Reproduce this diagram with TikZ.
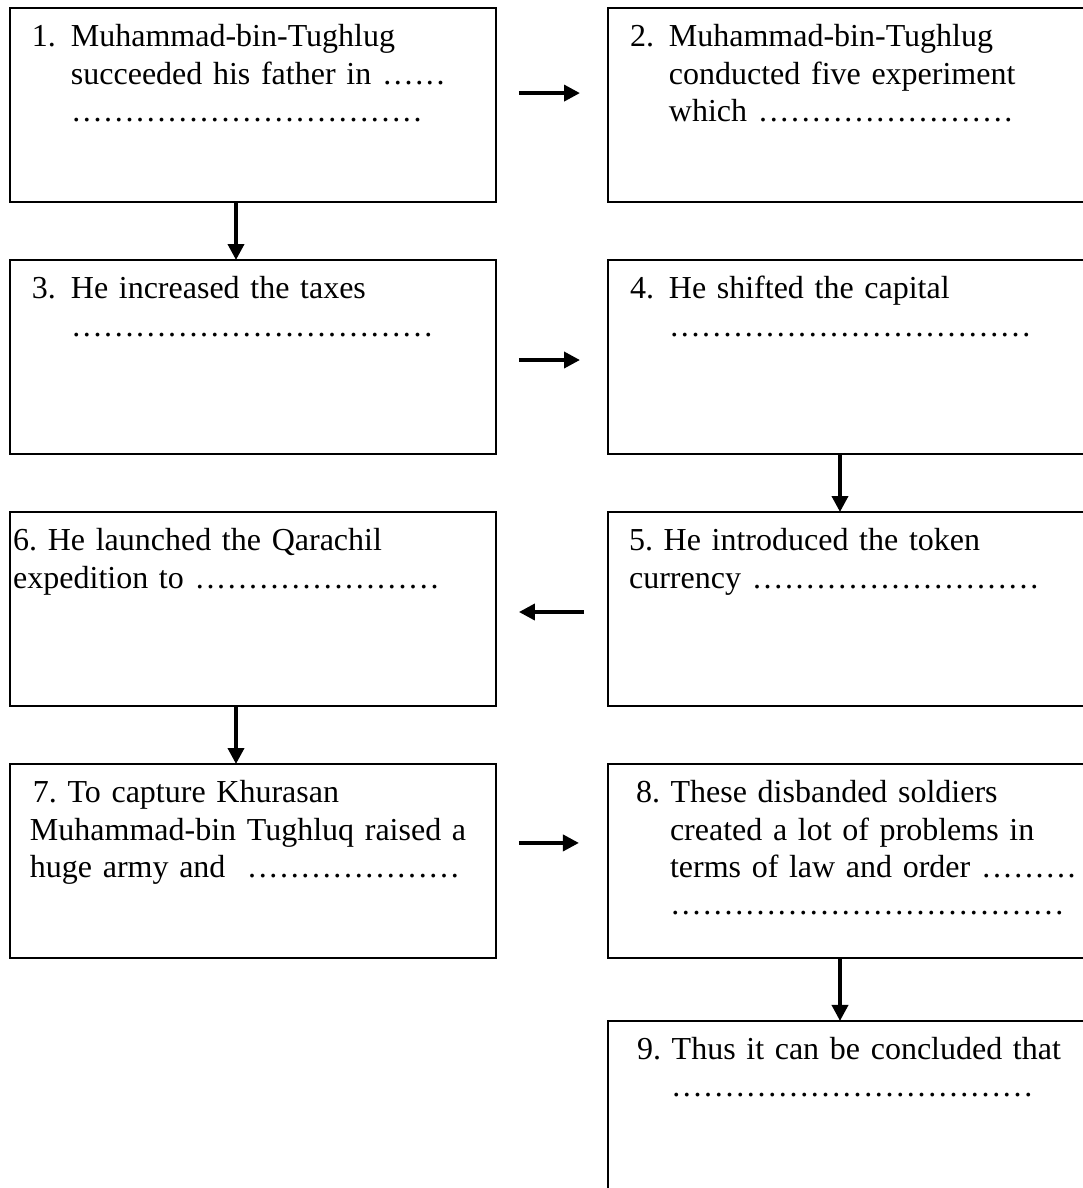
\documentclass[tikz,border=0pt]{standalone}
\usepackage{fontspec}
\setmainfont{Liberation Serif}
\usepackage{tikz}
\usetikzlibrary{positioning,calc,arrows.meta}
\frenchspacing
\tikzset{%
  stepBox/.style={%
    rectangle,
    draw=black,
    line width=0.7pt,
    inner xsep=0pt,
    inner ysep=0pt,
    outer sep=0pt,
    text width=182.25pt,
    text height=14.6pt,
    text depth=58.15pt,
    align=left,
    anchor=north west,
    font=\fontsize{12pt}{13.9pt}\selectfont
  },
  arrowLine/.style={%
    -{Triangle[length=6pt,width=6pt]},
    line width=1.4pt,
    color=black
  }
}
\newcommand{\stepNum}[1]{\hspace*{8.25pt}\makebox[14.6pt][l]{#1}}
\newcommand{\stepCont}{\hspace*{22.85pt}}
\newcommand{\dotRun}[1]{\foreach \d in {1,...,#1}{\makebox[4pt][c]{.}}}

\begin{document}
\begin{tikzpicture}
            \useasboundingbox (-3.75pt,3pt) rectangle (402.375pt,-442.5pt);
            \clip (-3.75pt,3pt) rectangle (402.375pt,-442.5pt);

            \node[stepBox] (b1) at (0,0) {\stepNum{1.}Muhammad-bin-Tughlug\\
              \stepCont succeeded his father in \dotRun{6}\\
              \stepCont \dotRun{33}};
            \node[stepBox, right=42pt of b1] (b2) {\stepNum{2.}Muhammad-bin-Tughlug\\
              \stepCont conducted five experiment\\
              \stepCont which \dotRun{24}};

            \node[stepBox, below=21.75pt of b1] (b3) {\stepNum{3.}He increased the taxes\\
              \stepCont \dotRun{34}};
            \node[stepBox, right=42pt of b3] (b4) {\stepNum{4.}He shifted the capital\\
              \stepCont \dotRun{34}};

            \node[stepBox, below=21.75pt of b4] (b5) {\hspace*{7.9pt}5. He introduced the token\\
              \hspace*{7.9pt}currency \dotRun{27}};
            \node[stepBox, below=21.75pt of b3] (b6) {\hspace*{1.2pt}6. He launched the Qarachil\\
              \hspace*{1.2pt}expedition to \dotRun{23}};

            \node[stepBox, below=21.75pt of b6] (b7) {\hspace*{8.6pt}7. To capture Khurasan\\
              \hspace*{7.5pt}Muhammad-bin Tughluq raised a\\
              \hspace*{7.5pt}huge army and\ \ \dotRun{20}};
            \node[stepBox, below=21.75pt of b5] (b8) {\hspace*{10.5pt}8. These disbanded soldiers\\
              \hspace*{23.25pt}created a lot of problems in\\
              \hspace*{23.25pt}terms of law and order \dotRun{9}\\
              \hspace*{23.25pt}\dotRun{37}};

            \node[stepBox, below=23.6pt of b8] (b9) {\hspace*{10.9pt}9. Thus it can be concluded that\\
              \hspace*{23.6pt}\dotRun{34}};

            % across
            \draw[arrowLine] ([xshift=8.6pt,yshift=-31.9pt]b1.north east) -- ([xshift=-10.5pt,yshift=-31.9pt]b2.north west);
            \draw[arrowLine] ([xshift=8.6pt,yshift=-37.5pt]b3.north east) -- ([xshift=-10.5pt,yshift=-37.5pt]b4.north west);
            \draw[arrowLine] ([xshift=-9pt,yshift=-37.5pt]b5.north west) -- ([xshift=8.6pt,yshift=-37.5pt]b6.north east);
            \draw[arrowLine] ([xshift=8.6pt,yshift=-29.6pt]b7.north east) -- ([xshift=-10.9pt,yshift=-29.6pt]b8.north west);

            % down
            \draw[arrowLine] ([xshift=84.75pt]b1.south west) -- ([xshift=84.75pt]b3.north west);
            \draw[arrowLine] ([xshift=87pt]b4.south west) -- ([xshift=87pt]b5.north west);
            \draw[arrowLine] ([xshift=84.75pt]b6.south west) -- ([xshift=84.75pt]b7.north west);
            \draw[arrowLine] ([xshift=87pt]b8.south west) -- ([xshift=87pt]b9.north west);
        \end{tikzpicture}
\end{document}
